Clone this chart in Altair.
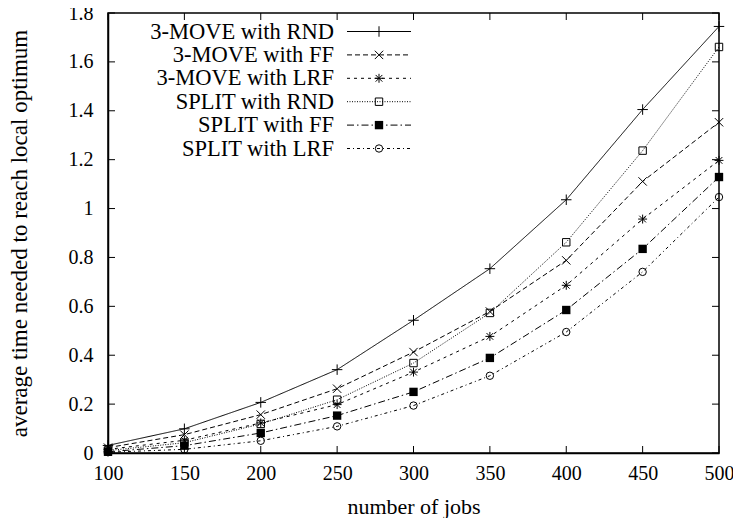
import altair as alt
import pandas as pd

jobs = [100, 150, 200, 250, 300, 350, 400, 450, 500]
move_rnd = [0.031, 0.099, 0.207, 0.341, 0.543, 0.754, 1.036, 1.405, 1.745]
move_ff = [0.022, 0.075, 0.157, 0.263, 0.413, 0.579, 0.788, 1.111, 1.353]
move_lrf = [0.015, 0.052, 0.123, 0.198, 0.331, 0.477, 0.686, 0.957, 1.197]
split_rnd = [0.010, 0.042, 0.119, 0.218, 0.368, 0.573, 0.862, 1.237, 1.661]
split_ff = [0.005, 0.030, 0.082, 0.153, 0.250, 0.389, 0.585, 0.835, 1.129]
split_lrf = [0.003, 0.015, 0.050, 0.109, 0.194, 0.316, 0.495, 0.741, 1.047]

names = ["3-MOVE with RND", "3-MOVE with FF", "3-MOVE with LRF",
         "SPLIT with RND", "SPLIT with FF", "SPLIT with LRF"]
values = [move_rnd, move_ff, move_lrf, split_rnd, split_ff, split_lrf]

x_ticks = [100, 150, 200, 250, 300, 350, 400, 450, 500]
y_ticks = [0, 0.2, 0.4, 0.6, 0.8, 1, 1.2, 1.4, 1.6, 1.8]

PLUS = "M-1,0L1,0M0,-1L0,1"
CROSS = "M-1,-1L1,1M-1,1L1,-1"
STAR = "M-1,0L1,0M0,-1L0,1M-0.75,-0.75L0.75,0.75M-0.75,0.75L0.75,-0.75"
styles = [
    dict(dash=[1, 0], shape=PLUS, filled=False, size=110),
    dict(dash=[5, 3], shape=CROSS, filled=False, size=70),
    dict(dash=[3, 4], shape=STAR, filled=False, size=80),
    dict(dash=[1, 1.5], shape="square", filled=False, size=55),
    dict(dash=[7, 3, 1.5, 3], shape="square", filled=True, size=70),
    dict(dash=[3, 3, 1, 3], shape="circle", filled=False, size=55),
]

W, H = 611, 440
FONT = "Liberation Serif"

xs = alt.Scale(domain=[100, 500], nice=False)
ys = alt.Scale(domain=[0, 1.8], nice=False)

layers = []
for name, vals, st in zip(names, values, styles):
    df = pd.DataFrame({"jobs": jobs, "time": vals, "series": name})
    base = alt.Chart(df).encode(
        x=alt.X("jobs:Q", scale=xs,
                axis=alt.Axis(values=x_ticks, title="number of jobs", grid=False, ticks=False,
                              labelFlush=False, labelPadding=10, titlePadding=13,
                              titleFontSize=22, format="d")),
        y=alt.Y("time:Q", scale=ys,
                axis=alt.Axis(values=y_ticks, title="average time needed to reach local optimum",
                              grid=False, ticks=False, labelFlush=False, labelPadding=15,
                              titlePadding=37, titleFontSize=23, format="~g")),
    )
    layers.append(base.mark_line(color="black", strokeWidth=1, strokeDash=st["dash"]))
    layers.append(base.mark_point(color="black", shape=st["shape"], filled=st["filled"],
                                  size=st["size"], strokeWidth=1, opacity=1))

# inward ticks on all four sides (gnuplot style)
xt = pd.DataFrame({"t": x_ticks})
yt = pd.DataFrame({"t": y_ticks})
tick_len = 7
layers.append(alt.Chart(xt).mark_rule(color="black", strokeWidth=1).encode(
    x=alt.X("t:Q", scale=xs), y=alt.value(H), y2=alt.value(H - tick_len)))
layers.append(alt.Chart(xt).mark_rule(color="black", strokeWidth=1).encode(
    x=alt.X("t:Q", scale=xs), y=alt.value(0), y2=alt.value(tick_len)))
layers.append(alt.Chart(yt).mark_rule(color="black", strokeWidth=1).encode(
    y=alt.Y("t:Q", scale=ys), x=alt.value(0), x2=alt.value(tick_len)))
layers.append(alt.Chart(yt).mark_rule(color="black", strokeWidth=1).encode(
    y=alt.Y("t:Q", scale=ys), x=alt.value(W), x2=alt.value(W - tick_len)))

# custom legend, top-left inside the plot
leg_text_x = 226
leg_line_x1, leg_line_x2 = 239, 303
leg_y0, leg_dy = 18.5, 23.4
for i, (name, st) in enumerate(zip(names, styles)):
    yy = leg_y0 + i * leg_dy
    ldf = pd.DataFrame({"label": [name]})
    lc = alt.Chart(ldf)
    layers.append(lc.mark_text(align="right", baseline="middle", font=FONT, fontSize=22.5,
                               color="black").encode(
        text="label:N", x=alt.value(leg_text_x), y=alt.value(yy)))
    layers.append(lc.mark_rule(color="black", strokeWidth=1, strokeDash=st["dash"]).encode(
        x=alt.value(leg_line_x1), x2=alt.value(leg_line_x2), y=alt.value(yy)))
    layers.append(lc.mark_point(color="black", shape=st["shape"], filled=st["filled"],
                                size=st["size"], strokeWidth=1, opacity=1).encode(
        x=alt.value((leg_line_x1 + leg_line_x2) / 2), y=alt.value(yy)))

chart = alt.layer(*layers).properties(
    width=W, height=H,
    autosize="none",
    padding={"left": 100, "top": 5, "right": 14, "bottom": 65},
).configure_view(
    stroke="black", strokeWidth=1.5
).configure_axis(
    domainColor="black", domainWidth=1.5,
    labelFont=FONT, labelFontSize=20, labelColor="black",
    titleFont=FONT, titleFontWeight="normal", titleColor="black",
)

chart.save("out.html", embed_options={"renderer": "svg", "actions": False})
